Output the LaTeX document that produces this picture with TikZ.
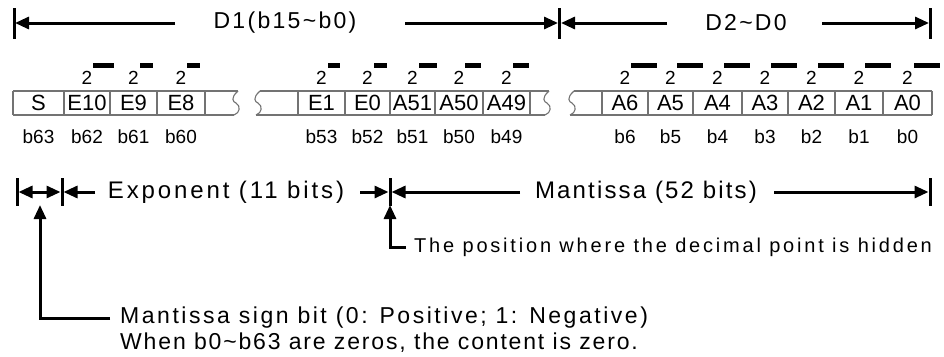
\documentclass[tikz,border=0pt]{standalone}
\usepackage{fontspec}
\setmainfont{Liberation Sans}
\usepackage{tikz}
\usetikzlibrary{arrows.meta}

\tikzset{
  dimline/.style={line width=3pt},
  cellline/.style={line width=1.1pt, draw=black!55},
  celltxt/.style={font=\fontsize{22}{22}\selectfont, inner sep=0pt},
  bittxt/.style={font=\fontsize{19}{19}\selectfont, inner sep=0pt},
  twotxt/.style={font=\fontsize{19}{19}\selectfont, inner sep=0pt},
  bigtxt/.style={font=\fontsize{23}{23}\selectfont\addfontfeatures{LetterSpace=10}, inner sep=0pt},
  rowtxt/.style={font=\fontsize{24}{24}\selectfont\addfontfeatures{LetterSpace=12}, inner sep=0pt},
  notetxt/.style={font=\fontsize{20}{20}\selectfont\addfontfeatures{LetterSpace=14}, inner sep=0pt, anchor=base west},
  signtxt/.style={font=\fontsize{23}{23}\selectfont\addfontfeatures{LetterSpace=11}, inner sep=0pt, anchor=base west},
}

\begin{document}
\begin{tikzpicture}[x=1pt,y=-1pt,>={Triangle[length=14pt,width=12pt]}]
\useasboundingbox (0,0) rectangle (944,356);

% Draw top dimension line
\draw[dimline] (14,8) -- (14,39);
\draw[dimline] (559.5,8) -- (559.5,39);
\draw[dimline] (930,8) -- (930,39);
\node[bigtxt] (dhi) at (285,23) {D1(b15\textasciitilde b0)};
\node[bigtxt] (dlo) at (746,23) {D2\textasciitilde D0};
\coordinate (tl) at (15,23);
\coordinate (tml) at (558,23);
\coordinate (tmr) at (561,23);
\coordinate (tr) at (929,23);
\coordinate (dhiw) at (175,23);
\coordinate (dhie) at (405,23);
\coordinate (dlow) at (667,23);
\coordinate (dloe) at (822,23);
\draw[dimline,->] (dhiw) -- (tl);
\draw[dimline,->] (dhie) -- (tml);
\draw[dimline,->] (dlow) -- (tmr);
\draw[dimline,->] (dloe) -- (tr);

% Draw register cells
\draw[cellline] (13,91) -- (238,91) (13,115) -- (234,115);
\draw[cellline] (260,91) -- (549,91) (256,115) -- (545,115);
\draw[cellline] (574,91) -- (932,91) (570,115) -- (932,115);
\draw[cellline,xshift=236pt] (2,91) .. controls (-6,98) and (-3,102) .. (0,103) .. controls (5,106) and (4,113) .. (-2,115);
\draw[cellline,xshift=258pt] (2,91) .. controls (-6,98) and (-3,102) .. (0,103) .. controls (5,106) and (4,113) .. (-2,115);
\draw[cellline,xshift=547pt] (2,91) .. controls (-6,98) and (-3,102) .. (0,103) .. controls (5,106) and (4,113) .. (-2,115);
\draw[cellline,xshift=572pt] (2,91) .. controls (-6,98) and (-3,102) .. (0,103) .. controls (5,106) and (4,113) .. (-2,115);
\draw[cellline] (13,91) -- (13,115) (64,91) -- (64,115) (110,91) -- (110,115)
  (157,91) -- (157,115) (205,91) -- (205,115);
\draw[cellline] (298,91) -- (298,115) (345,91) -- (345,115) (390,91) -- (390,115)
  (435,91) -- (435,115) (483,91) -- (483,115) (530,91) -- (530,115);
\draw[cellline] (602,91) -- (602,115) (648,91) -- (648,115) (693,91) -- (693,115)
  (742,91) -- (742,115) (788,91) -- (788,115) (835,91) -- (835,115)
  (883,91) -- (883,115) (932,91) -- (932,115);

% Cell names
\node[celltxt] (cS) at (38.5,103) {S};
\node[celltxt] (cE10) at (87,103) {E10};
\node[celltxt] (cE9) at (133.5,103) {E9};
\node[celltxt] (cE8) at (181,103) {E8};
\node[celltxt] (cE1) at (321.5,103) {E1};
\node[celltxt] (cE0) at (367.5,103) {E0};
\node[celltxt] (cA51) at (412.5,103) {A51};
\node[celltxt] (cA50) at (459,103) {A50};
\node[celltxt] (cA49) at (506.5,103) {A49};
\node[celltxt] (cA6) at (625,103) {A6};
\node[celltxt] (cA5) at (670.5,103) {A5};
\node[celltxt] (cA4) at (717.5,103) {A4};
\node[celltxt] (cA3) at (765,103) {A3};
\node[celltxt] (cA2) at (811.5,103) {A2};
\node[celltxt] (cA1) at (859,103) {A1};
\node[celltxt] (cA0) at (907.5,103) {A0};

% Bit numbers
\node[bittxt] (bS) at (38.5,137) {b63};
\node[bittxt] (bE10) at (87,137) {b62};
\node[bittxt] (bE9) at (133.5,137) {b61};
\node[bittxt] (bE8) at (181,137) {b60};
\node[bittxt] (bE1) at (321.5,137) {b53};
\node[bittxt] (bE0) at (367.5,137) {b52};
\node[bittxt] (bA51) at (412.5,137) {b51};
\node[bittxt] (bA50) at (459,137) {b50};
\node[bittxt] (bA49) at (506.5,137) {b49};
\node[bittxt] (bA6) at (625,137) {b6};
\node[bittxt] (bA5) at (670.5,137) {b5};
\node[bittxt] (bA4) at (717.5,137) {b4};
\node[bittxt] (bA3) at (765,137) {b3};
\node[bittxt] (bA2) at (811.5,137) {b2};
\node[bittxt] (bA1) at (859,137) {b1};
\node[bittxt] (bA0) at (907.5,137) {b0};

% Weights with their exponents
\node[twotxt] (wE10) at (87,78) {2};
\node[twotxt] (wE9) at (133.5,78) {2};
\node[twotxt] (wE8) at (181,78) {2};
\node[twotxt] (wE1) at (321.5,78) {2};
\node[twotxt] (wE0) at (367.5,78) {2};
\node[twotxt] (wA51) at (412.5,78) {2};
\node[twotxt] (wA50) at (459,78) {2};
\node[twotxt] (wA49) at (506.5,78) {2};
\node[twotxt] (wA6) at (625,78) {2};
\node[twotxt] (wA5) at (670.5,78) {2};
\node[twotxt] (wA4) at (717.5,78) {2};
\node[twotxt] (wA3) at (765,78) {2};
\node[twotxt] (wA2) at (811.5,78) {2};
\node[twotxt] (wA1) at (859,78) {2};
\node[twotxt] (wA0) at (907.5,78) {2};
\fill (wE10.north east) ++(1,-3) rectangle ++(21,-5.5);
\fill (wE9.north east) ++(1,-3) rectangle ++(13,-5.5);
\fill (wE8.north east) ++(1,-3) rectangle ++(13,-5.5);
\fill (wE1.north east) ++(1,-3) rectangle ++(12,-5.5);
\fill (wE0.north east) ++(1,-3) rectangle ++(13,-5.5);
\fill (wA51.north east) ++(1,-3) rectangle ++(18,-5.5);
\fill (wA50.north east) ++(1,-3) rectangle ++(16,-5.5);
\fill (wA49.north east) ++(1,-3) rectangle ++(16,-5.5);
\fill (wA6.north east) ++(1,-3) rectangle ++(26,-5.5);
\fill (wA5.north east) ++(1,-3) rectangle ++(26,-5.5);
\fill (wA4.north east) ++(1,-3) rectangle ++(26,-5.5);
\fill (wA3.north east) ++(1,-3) rectangle ++(26,-5.5);
\fill (wA2.north east) ++(1,-3) rectangle ++(26,-5.5);
\fill (wA1.north east) ++(1,-3) rectangle ++(26,-5.5);
\fill (wA0.north east) ++(1,-3) rectangle ++(26,-5.5);

% Draw field dimension line
\draw[dimline] (17,178) -- (17,206);
\draw[dimline] (62,178) -- (62,206);
\draw[dimline] (390,178) -- (390,206);
\draw[dimline] (930,178) -- (930,206);
\node[rowtxt] (fexp) at (226,192) {Exponent (11 bits)};
\node[rowtxt,font=\fontsize{24}{24}\selectfont\addfontfeatures{LetterSpace=9}] (fman) at (646,192) {Mantissa (52 bits)};
\coordinate (sl) at (18.5,192);
\coordinate (sr) at (60.5,192);
\coordinate (el) at (63.5,192);
\coordinate (er) at (388.5,192);
\coordinate (ml) at (391.5,192);
\coordinate (mr) at (928.5,192);
\coordinate (fexpw) at (95,192);
\coordinate (fexpe) at (360,192);
\coordinate (fmanw) at (520,192);
\coordinate (fmane) at (774,192);
\draw[dimline,<->] (sl) -- (sr);
\draw[dimline,->] (fexpw) -- (el);
\draw[dimline,->] (fexpe) -- (er);
\draw[dimline,->] (fmanw) -- (ml);
\draw[dimline,->] (fmane) -- (mr);

% Notes
\node[notetxt] (hid) at (414,252) {The position where the decimal point is hidden};
\node[signtxt] (sgn1) at (120,323) {Mantissa sign bit (0: Positive; 1: Negative)};
\node[signtxt,font=\fontsize{23}{23}\selectfont\addfontfeatures{LetterSpace=8}] (sgn2) at (120,349) {When b0\textasciitilde b63 are zeros, the content is zero.};
\coordinate (hidt) at (390,205);
\coordinate (hidl) at (406,247);
\coordinate (sgnt) at (40,205);
\coordinate (sgnl) at (110,318);
\draw[dimline,->] (hidl) -| (hidt);
\draw[dimline,->] (sgnl) -| (sgnt);
\end{tikzpicture}
\end{document}
